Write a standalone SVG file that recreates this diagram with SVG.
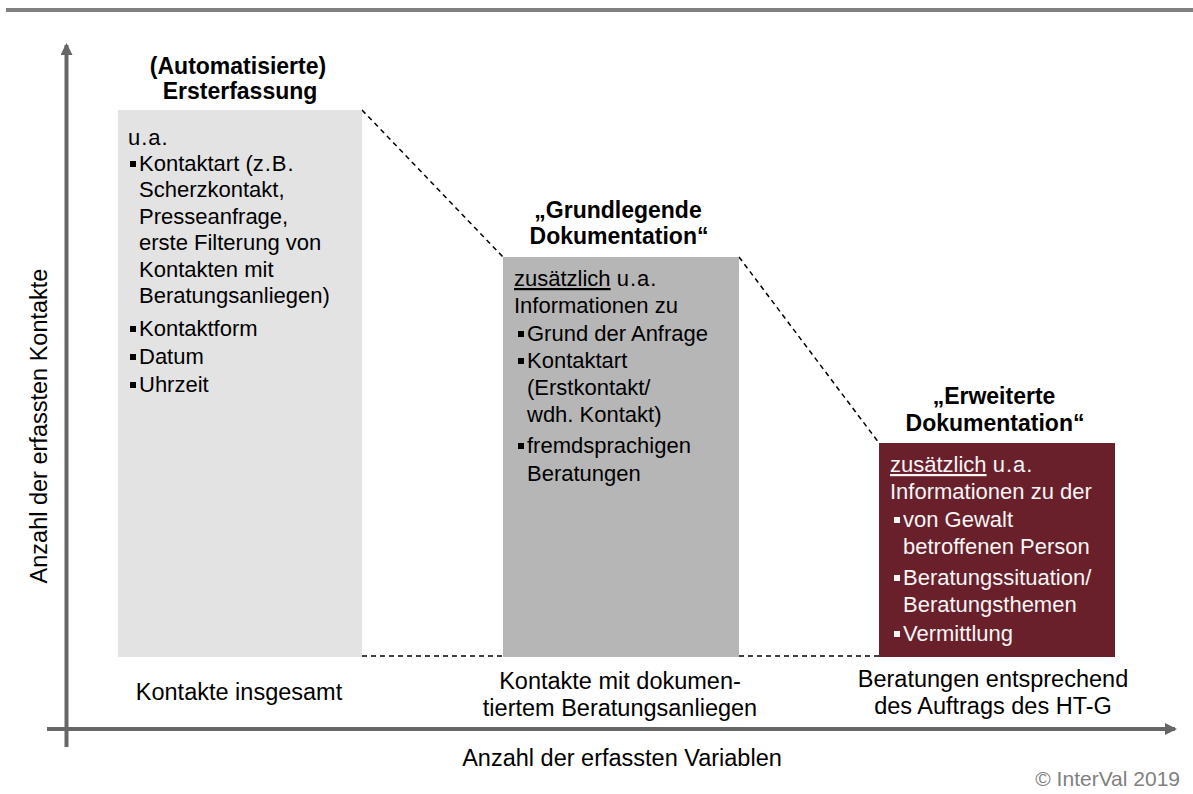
<svg xmlns="http://www.w3.org/2000/svg" width="1193" height="794" viewBox="0 0 1193 794">
<style>
text{font-family:"Liberation Sans",Arial,sans-serif;fill:#000}
.t{font-size:23px;font-weight:bold;text-anchor:middle}
.b{font-size:22px}
.w{fill:#f5f5f5}
.l{font-size:23.5px;text-anchor:middle}
.u{text-decoration:underline}
.sp{letter-spacing:1px}
.dash{stroke:#000;stroke-width:1.5;stroke-dasharray:5 4;fill:none}
.ax{stroke:#666;stroke-width:4;fill:none}
</style>
<defs>
<marker id="ah" markerWidth="12" markerHeight="12" refX="10" refY="6" orient="auto" markerUnits="userSpaceOnUse">
<path d="M0,0 L12,6 L0,12 Z" fill="#666"/>
</marker>
</defs>
<line x1="6" y1="10" x2="1193" y2="10" stroke="#808080" stroke-width="4"/>
<g id="axes">
<line class="ax" x1="66.5" y1="747" x2="66.5" y2="45" marker-end="url(#ah)"/>
<line class="ax" x1="47" y1="729" x2="1175" y2="729" marker-end="url(#ah)"/>
<text class="l" transform="translate(47,426) rotate(-90)">Anzahl der erfassten Kontakte</text>
<text class="l" x="622" y="766">Anzahl der erfassten Variablen</text>
</g>
<g id="connectors">
<line class="dash" x1="362" y1="110" x2="503" y2="257"/>
<line class="dash" x1="739" y1="257" x2="879" y2="443"/>
<line class="dash" x1="362" y1="656" x2="503" y2="656"/>
<line class="dash" x1="739" y1="656" x2="879" y2="656"/>
</g>
<g id="node1">
<text class="t" x="238" y="74">(Automatisierte)</text>
<text class="t" x="240" y="99">Ersterfassung</text>
<rect x="118" y="110" width="244" height="547" fill="#e3e3e3"/>
<text class="b" x="128" y="145"><tspan class="sp">u.a.</tspan></text>
<rect x="130" y="161" width="6" height="6"/>
<text class="b" x="139" y="171">Kontaktart (<tspan class="sp">z.B.</tspan></text>
<text class="b" x="139" y="197">Scherzkontakt,</text>
<text class="b" x="139" y="224">Presseanfrage,</text>
<text class="b" x="139" y="250">erste Filterung von</text>
<text class="b" x="139" y="277">Kontakten mit</text>
<text class="b" x="139" y="303">Beratungsanliegen)</text>
<rect x="130" y="326" width="6" height="6"/>
<text class="b" x="139" y="336">Kontaktform</text>
<rect x="130" y="354" width="6" height="6"/>
<text class="b" x="139" y="364">Datum</text>
<rect x="130" y="382" width="6" height="6"/>
<text class="b" x="139" y="392">Uhrzeit</text>
<text class="l" x="239" y="700">Kontakte insgesamt</text>
</g>
<g id="node2">
<text class="t" x="618" y="218">„Grundlegende</text>
<text class="t" x="619" y="244">Dokumentation“</text>
<rect x="503" y="257" width="236" height="400" fill="#b6b6b6"/>
<text class="b" x="514" y="286"><tspan class="u">zusätzlich</tspan> <tspan class="sp">u.a.</tspan></text>
<text class="b" x="514" y="313">Informationen zu</text>
<rect x="518" y="331" width="6" height="6"/>
<text class="b" x="527" y="341">Grund der Anfrage</text>
<rect x="518" y="358" width="6" height="6"/>
<text class="b" x="527" y="368">Kontaktart</text>
<text class="b" x="527" y="395">(Erstkontakt/</text>
<text class="b" x="527" y="422">wdh. Kontakt)</text>
<rect x="518" y="443" width="6" height="6"/>
<text class="b" x="527" y="453">fremdsprachigen</text>
<text class="b" x="527" y="481">Beratungen</text>
<text class="l" x="620" y="689">Kontakte mit dokumen-</text>
<text class="l" x="620" y="716">tiertem Beratungsanliegen</text>
</g>
<g id="node3">
<text class="t" x="994" y="404">„Erweiterte</text>
<text class="t" x="995" y="431">Dokumentation“</text>
<rect x="879" y="443" width="236" height="214" fill="#6a202a"/>
<text class="b w" x="890" y="472"><tspan class="u">zusätzlich</tspan> <tspan class="sp">u.a.</tspan></text>
<text class="b w" x="890" y="499">Informationen zu der</text>
<rect x="894" y="517" width="6" height="6" fill="#f5f5f5"/>
<text class="b w" x="903" y="527">von Gewalt</text>
<text class="b w" x="903" y="554">betroffenen Person</text>
<rect x="894" y="575" width="6" height="6" fill="#f5f5f5"/>
<text class="b w" x="903" y="585">Beratungssituation/</text>
<text class="b w" x="903" y="612">Beratungsthemen</text>
<rect x="894" y="631" width="6" height="6" fill="#f5f5f5"/>
<text class="b w" x="903" y="641">Vermittlung</text>
<text class="l" x="993" y="687">Beratungen entsprechend</text>
<text class="l" x="993" y="714">des Auftrags des HT-G</text>
</g>
<text x="1180" y="786" font-size="21" text-anchor="end" style="fill:#808080">© InterVal 2019</text>
</svg>
